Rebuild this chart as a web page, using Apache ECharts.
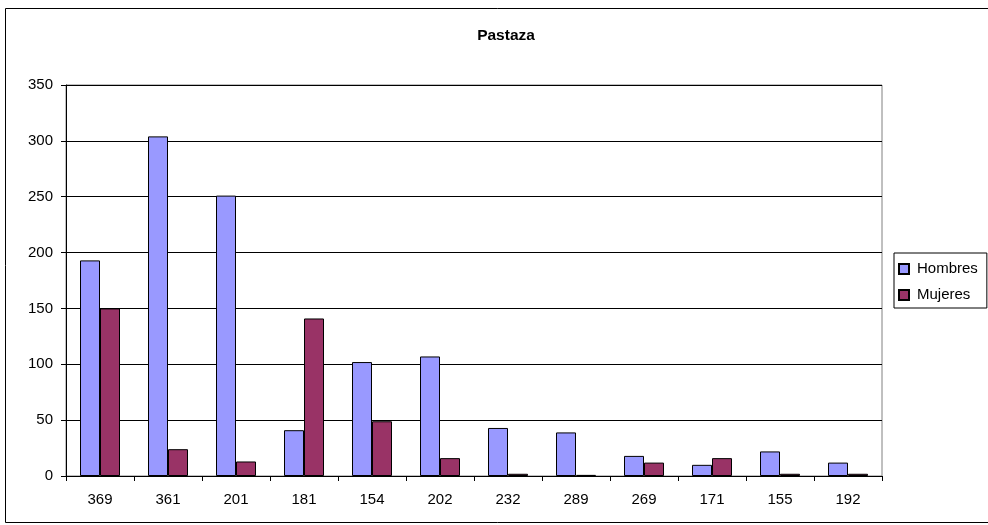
<!DOCTYPE html>
<html><head><meta charset="utf-8">
<script src="https://cdn.jsdelivr.net/npm/echarts@6/dist/echarts.min.js"></script>
<style>html,body{margin:0;padding:0;background:#fff}#c{width:988px;height:525px}</style>
</head><body><div id="c"></div>
<script>
const categories = ['369','361','201','181','154','202','232','289','269','171','155','192'];
const hombres = [193,304,251,41,102,107,43,39,18,10,22,12];
const mujeres = [150,24,13,141,49,16,2,1,12,16,2,2];
const yTicks = [0,50,100,150,200,250,300,350];

const chart = echarts.init(document.getElementById('c'), null, {renderer:'canvas'});
const font = 'Liberation Sans, Arial, sans-serif';
chart.setOption({
  animation:false,
  backgroundColor:'#fff',
  title:{text:'Pastaza', left:501, top:23, textAlign:'center',
    textStyle:{fontFamily:font, fontSize:15.5, fontWeight:'bold', color:'#000'}},
  graphic:[{type:'rect', shape:{x:5.5,y:8.5,width:990,height:514}, style:{fill:null, stroke:'#000', lineWidth:1}, silent:true}],
  legend:{
    orient:'vertical', left:894, top:253, itemWidth:10, itemHeight:10, itemGap:10,
    padding:[8,9,5,4], borderColor:'#000', borderWidth:1,
    textStyle:{fontFamily:font, fontSize:15, lineHeight:16, color:'#000', padding:[0,0,0,3]},
    data:[{name:'Hombres',icon:'rect'},{name:'Mujeres',icon:'rect'}]
  },
  grid:{left:66, top:85, width:816, height:391, show:true, borderColor:'#808080', borderWidth:1},
  xAxis:{type:'category', data:categories,
    axisLine:{lineStyle:{color:'#000'}},
    axisTick:{show:true, length:5, alignWithLabel:false, lineStyle:{color:'#000'}},
    axisLabel:{fontFamily:font, fontSize:15, color:'#000', margin:16}},
  yAxis:{type:'value', min:0, max:350, interval:50,
    axisLine:{show:true, lineStyle:{color:'#000'}},
    axisTick:{show:true, length:5, inside:false, lineStyle:{color:'#000'}},
    splitLine:{lineStyle:{color:'#000', width:1}},
    axisLabel:{fontFamily:font, fontSize:15, color:'#000', margin:13,
      formatter: v => yTicks.includes(v) ? String(v) : ''}},
  series:[
    {name:'Hombres', type:'bar', data:hombres, barWidth:20, barGap:'0%',
     itemStyle:{color:'#9999FF', borderColor:'#000', borderWidth:1}},
    {name:'Mujeres', type:'bar', data:mujeres, barWidth:20, barGap:'0%',
     itemStyle:{color:'#993366', borderColor:'#000', borderWidth:1}}
  ]
});
</script></body></html>
